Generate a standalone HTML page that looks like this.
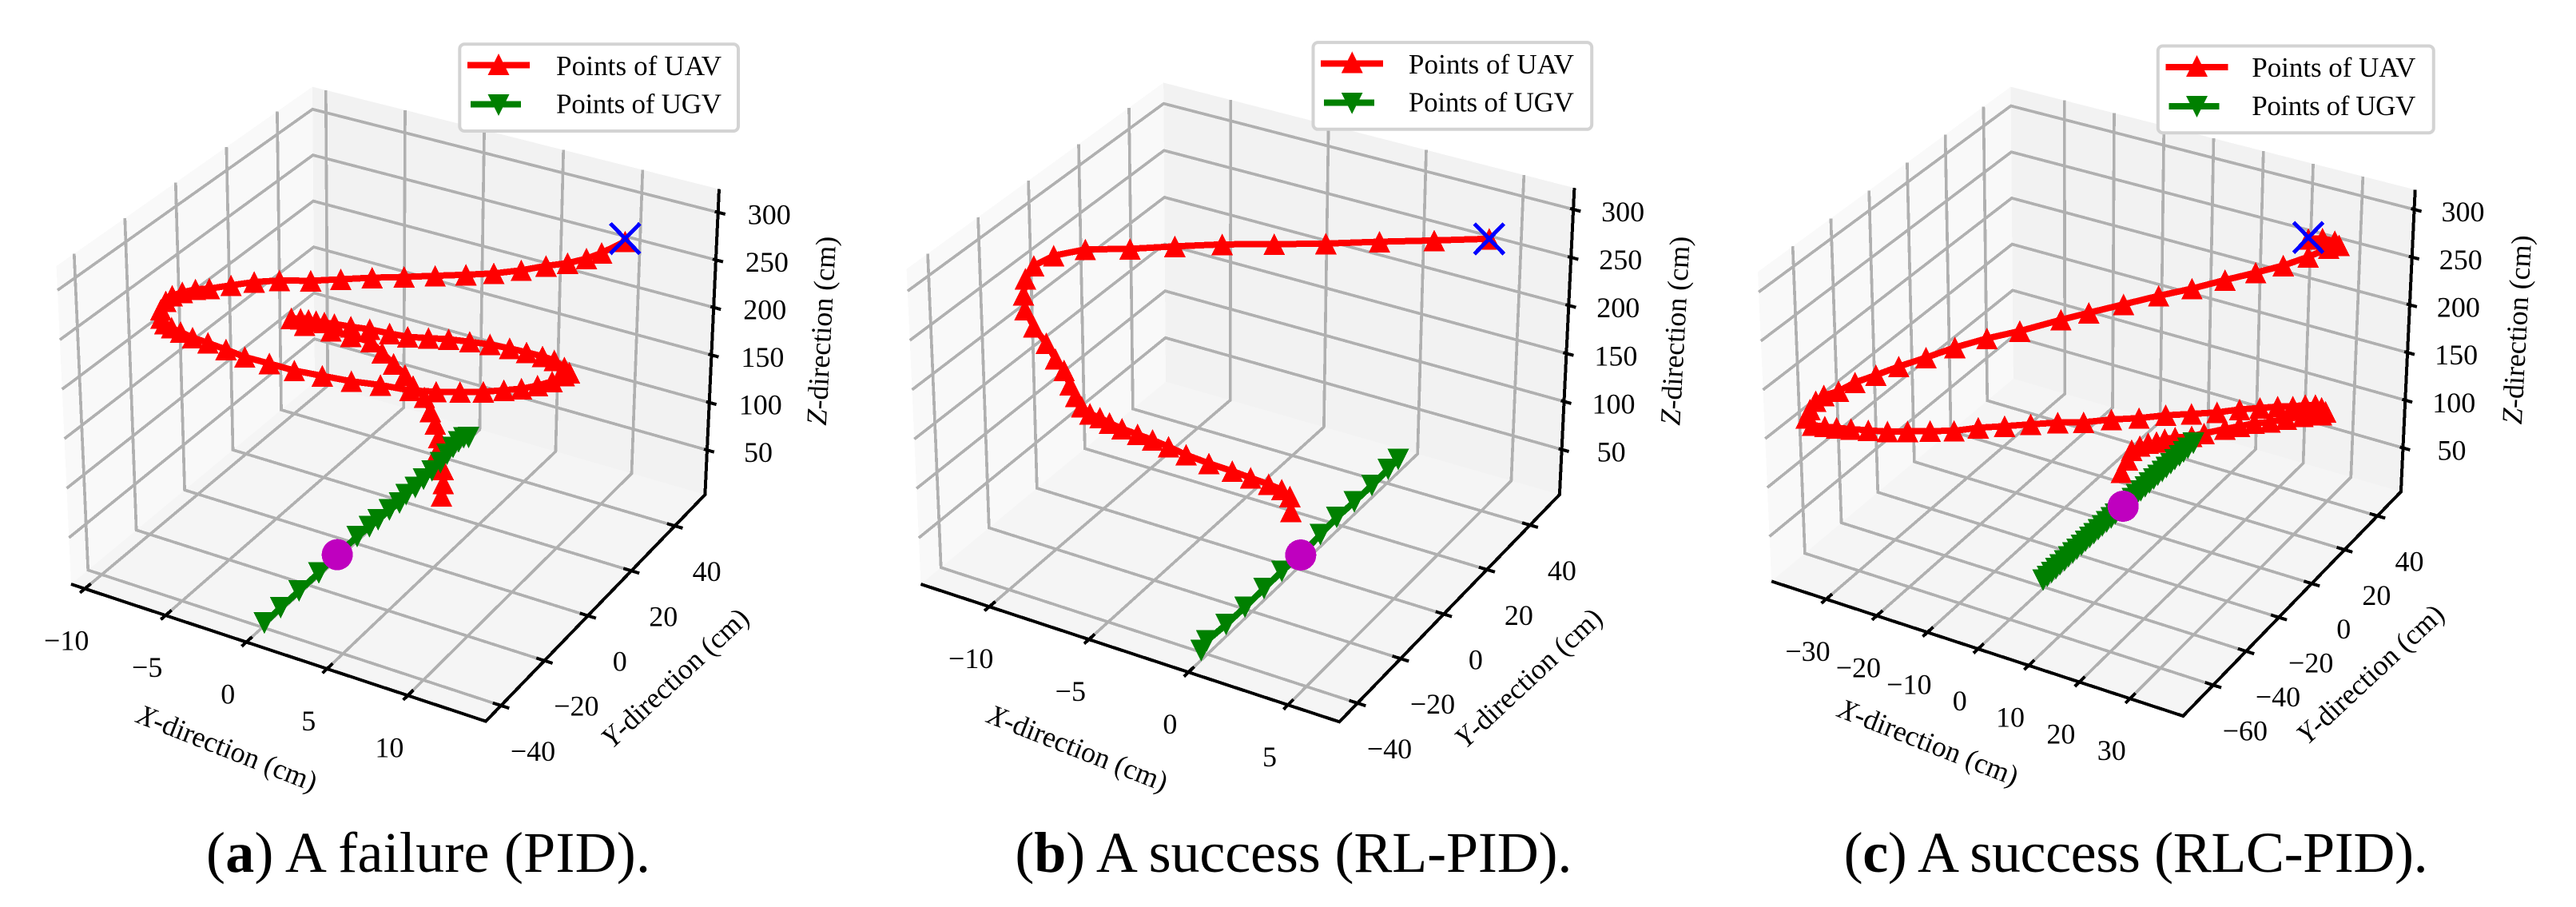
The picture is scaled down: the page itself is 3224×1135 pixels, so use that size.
<!DOCTYPE html>
<html lang="en">
<head>
<meta charset="utf-8">
<title>UAV and UGV trajectories</title>
<style>
html,body{margin:0;padding:0;background:#fff;}
svg{display:block;}
polyline,polygon,line,path,circle{shape-rendering:crispEdges;}
text{font-family:"Liberation Serif",serif;fill:#000;}
.tick{font-size:36px;text-anchor:middle;dominant-baseline:central;}
.axt{font-size:36px;text-anchor:middle;dominant-baseline:central;}
.leg{font-size:35px;}
.cap{font-size:72px;}
</style>
</head>
<body>
<svg xmlns="http://www.w3.org/2000/svg" width="3224" height="1135" viewBox="0 0 3224 1135">
<rect width="3224" height="1135" fill="#fff"/>

<g>
  <g id="plot-a"></g>
  <text class="axt" transform="translate(284.5,936) rotate(21.5)"><tspan font-style="italic">X</tspan>-direction (cm)</text>
  <text class="axt" transform="translate(844.7,848) rotate(-43)"><tspan font-style="italic">Y</tspan>-direction (cm)</text>
  <text class="axt" transform="translate(1028,414) rotate(-87)"><tspan font-style="italic">Z</tspan>-direction (cm)</text>
  <g transform="translate(575.3,55.3)">
    <rect x="0" y="0" width="348.7" height="108.7" rx="6" fill="#fff" stroke="#d3d3d3" stroke-width="4"/>
    <line x1="9.7" y1="26.4" x2="87.7" y2="26.4" stroke="#ff0000" stroke-width="8"/>
    <polygon points="48.7,11.5 35.2,38.5 62.2,38.5" fill="#ff0000"/>
    <text class="leg" x="120.7" y="38.7" textLength="207" lengthAdjust="spacing">Points of UAV</text>
    <line x1="13.7" y1="75.4" x2="76.7" y2="75.4" stroke="#008000" stroke-width="8"/>
    <polygon points="48.7,89.7 35.2,62.7 62.2,62.7" fill="#008000"/>
    <text class="leg" x="120.7" y="86.4" textLength="207" lengthAdjust="spacing">Points of UGV</text>
  </g>
  <text class="cap" x="258" y="1091" textLength="556" lengthAdjust="spacing">(<tspan font-weight="bold">a</tspan>) A failure (PID).</text>
</g>

<g>
  <g id="plot-b"></g>
  <text class="axt" transform="translate(1349,936) rotate(21.5)"><tspan font-style="italic">X</tspan>-direction (cm)</text>
  <text class="axt" transform="translate(1912.8,848) rotate(-43)"><tspan font-style="italic">Y</tspan>-direction (cm)</text>
  <text class="axt" transform="translate(2096.5,414) rotate(-87)"><tspan font-style="italic">Z</tspan>-direction (cm)</text>
  <g transform="translate(1643.5,53.1)">
    <rect x="0" y="0" width="348.7" height="108.7" rx="6" fill="#fff" stroke="#d3d3d3" stroke-width="4"/>
    <line x1="9.7" y1="26.4" x2="87.7" y2="26.4" stroke="#ff0000" stroke-width="8"/>
    <polygon points="48.7,11.5 35.2,38.5 62.2,38.5" fill="#ff0000"/>
    <text class="leg" x="119.4" y="38.7" textLength="207" lengthAdjust="spacing">Points of UAV</text>
    <line x1="13.7" y1="75.4" x2="76.7" y2="75.4" stroke="#008000" stroke-width="8"/>
    <polygon points="48.7,89.7 35.2,62.7 62.2,62.7" fill="#008000"/>
    <text class="leg" x="119.4" y="86.4" textLength="207" lengthAdjust="spacing">Points of UGV</text>
  </g>
  <text class="cap" x="1270.4" y="1091" textLength="697" lengthAdjust="spacing">(<tspan font-weight="bold">b</tspan>) A success (RL-PID).</text>
</g>

<g>
  <g id="plot-c"></g>
  <text class="axt" transform="translate(2413.7,928.7) rotate(21.5)"><tspan font-style="italic">X</tspan>-direction (cm)</text>
  <text class="axt" transform="translate(2966.5,843.3) rotate(-43)"><tspan font-style="italic">Y</tspan>-direction (cm)</text>
  <text class="axt" transform="translate(3150,412.6) rotate(-87)"><tspan font-style="italic">Z</tspan>-direction (cm)</text>
  <g transform="translate(2700.8,57.5)">
    <rect x="0" y="0" width="345" height="108.7" rx="6" fill="#fff" stroke="#d3d3d3" stroke-width="4"/>
    <line x1="9.7" y1="26.4" x2="87.7" y2="26.4" stroke="#ff0000" stroke-width="8"/>
    <polygon points="48.7,11.5 35.2,38.5 62.2,38.5" fill="#ff0000"/>
    <text class="leg" x="117.5" y="38.7" textLength="205" lengthAdjust="spacing">Points of UAV</text>
    <line x1="13.7" y1="75.4" x2="76.7" y2="75.4" stroke="#008000" stroke-width="8"/>
    <polygon points="48.7,89.7 35.2,62.7 62.2,62.7" fill="#008000"/>
    <text class="leg" x="117.5" y="86.4" textLength="205" lengthAdjust="spacing">Points of UGV</text>
  </g>
  <text class="cap" x="2307.6" y="1091" textLength="731" lengthAdjust="spacing">(<tspan font-weight="bold">c</tspan>) A success (RLC-PID).</text>
</g>
</svg>

<script>
/* ---- panel (a) data ---- */
const aXTicks=[-10,-5,0,5,10];
const aYTicks=[-40,-20,0,20,40];
const aZTicks=[50,100,150,200,250,300];
const aUavX=[12.6,11.17,10.24,9.07,7.73,6.19,4.48,2.74,0.8,-1.15,-3.17,-5.16,-7.06,-1.25,-2.79,-4.21,-5.54,-6.39,-7.2,-7.83,-8.24,-8.56,-8.56,-8.34,-7.93,-7.38,-6.65,-5.71,-4.61,-3.46,-1.96,-0.43,1.28,3.06,4.84,-0.77,0.91,2.44,3.92,5.23,6.34,7.35,8.27,9.03,9.35,9.03,8.38,7.63,6.62,5.55,4.3,3.02,1.69,0.4,-0.91,-2.06,-3.33,-4.53,-5.58,-6.22,-6.74,-7.23,-7.73,-8.32,-7.48,-5.8,-4.53,-3.26,-2.54,-1.81,-1.08,-0.56,0.17,0.55,0.87,1.09,0.98,1.41,1.41,1.3];
const aUavY=[28.7,28.7,28.7,28.7,28.7,28.7,28.7,28.7,28.7,28.7,28.7,28.7,28.7,-21.8,-21.8,-21.8,-21.8,-21.8,-21.8,-21.8,-21.8,-21.8,-21.8,-21.8,-21.8,-21.8,-21.8,-21.8,-21.8,-21.8,-21.8,-21.8,-21.8,-21.8,-21.8,28.7,28.7,28.7,28.7,28.7,28.7,28.7,28.7,28.7,28.7,28.7,28.7,28.7,28.7,28.7,28.7,28.7,28.7,28.7,28.7,28.7,28.7,28.7,28.7,28.7,28.7,28.7,28.7,28.7,28.7,28.7,28.7,28.7,28.7,28.7,28.7,28.7,28.7,28.7,28.7,28.7,28.7,28.7,28.7,28.7];
const aUavZ=[313,294.9,284.8,275,266.1,254.7,243.6,234.4,224.5,214.3,204.2,193.3,182.8,310,301.1,290.8,281.1,276.2,269.2,262.9,255,244.8,236.2,231.6,229.4,227.6,225.7,224.8,223.4,221.5,222.2,222.5,225.5,228.7,233.5,96.6,103.1,110.1,117.2,125,131.8,139.6,148.3,157.8,162.3,166.5,170.7,171.5,171,170.2,168.6,165.4,161.9,157.1,152.3,150.5,148.9,146.1,144.1,142.6,141.6,140.7,139.3,137.1,133.6,135.7,135.9,136.1,127.8,119.5,111.3,102,93.7,80.7,69.1,55.7,39.2,23.7,9.2,-4.4];
const aUgvX=[-0.13,-0.16,-0.16,-0.17,-0.24,-0.24,-0.17,-0.12,-0.1,0.02,-0.11,-0.04,-0.08,-0.11,-0.15,-0.27,-0.35,-0.38,-0.35,-0.12];
const aUgvY=[-38.3,-31.05,-23.1,-14.5,-6.06,2.54,7.38,10.79,15.5,19.1,22.8,26.3,30.15,34,37.9,41.6,44.7,47.3,49.3,49.9];
const aUgvZ=[3.1,3.1,3.1,3.1,3.1,3.1,3.1,3.1,3.1,3.1,3.1,3.1,3.1,3.1,3.1,3.1,3.1,3.1,3.1,3.1];
const aTarget=[-0.24,-6.06,3.1];
const aStart=[12.6,28.7,316];

/* ---- panel (b) data ---- */
const bXTicks=[-10,-5,0,5];
const bYTicks=[-40,-20,0,20,40];
const bZTicks=[50,100,150,200,250,300];
const bUavX=[6.22,3.47,0.72,-1.99,-4.6,-7.25,-9.67,-11.97,-7.82,-9.39,-10.39,-10.82,-10.94,-10.89,-10.48,-9.87,-9.44,-9.02,-8.74,-8.47,-8.18,-7.77,-7.27,-6.79,-6.17,-5.39,-4.64,-3.85,-2.97,-1.83,-0.66,0.26,1.16,1.81,2.22,2.28];
const bUavY=[28.2,28.2,28.2,28.2,28.2,28.2,28.2,28.2,-22.9,-22.9,-22.9,-22.9,-22.9,-22.9,-22.9,-22.9,-22.9,-22.9,-22.9,-22.9,-22.9,-22.9,-22.9,-22.9,-22.9,-22.9,-22.9,-22.9,-22.9,-22.9,-22.9,-22.9,-22.9,-22.9,-22.9,-22.9];
const bUavZ=[316.8,300,283.5,266.6,251.3,236.2,220.4,204.7,328.6,312.8,296.3,280.5,263.2,248.6,233.3,220.4,207,197.9,184.9,174.7,165.9,161.4,160.5,158.1,156.1,155.1,154.1,152.1,149.4,147.7,147.1,145.9,145,143.6,139.2,124.7];
const bUgvX=[-0.37,-0.55,-0.47,-0.45,-0.47,-0.49,-0.42,-0.49,-0.56,-0.52,-0.51,-0.54,-0.55];
const bUgvY=[-39.45,-35.4,-27.5,-19.3,-10.65,-2.6,5.25,14.56,22.47,29.9,37.6,45.1,49.7];
const bUgvZ=[3.1,3.1,3.1,3.1,3.1,3.1,3.1,3.1,3.1,3.1,3.1,3.1,3.1];
const bTarget=[-0.42,5.25,3.1];
const bStart=[6.22,28.2,316.8];

/* ---- panel (c) data ---- */
const cXTicks=[-30,-20,-10,0,10,20,30];
const cYTicks=[-60,-40,-20,0,20,40];
const cZTicks=[50,100,150,200,250,300];
const cUavX=[32.95,35.73,38.15,39,36.99,33.03,28.19,22.79,16.74,10.2,3.61,-3.38,-10.37,-15.97,-24.3,-1.99,-8.2,-13.81,-19.16,-23.66,-27.77,-31.03,-33.96,-35.56,-36.79,-37.59,-36.41,-33.98,-31.65,-28.84,-25.44,-21.7,-17.78,-13.33,-8.67,-3.94,1.17,6.25,11.49,-11.4,-5.71,-0.12,5.3,10.52,15.65,20.19,24.31,27.84,30.87,33.35,35.39,36.63,37.46,36.65,34.58,32.94,29.65,26.39,23.2,20.26,17.32,13.12,10.61,7.25,5.15,3.47,1.79,0.11,-1.57,-2.41,-3.66];
const cUavY=[14.5,14.5,14.5,14.5,14.5,14.5,14.5,14.5,14.5,14.5,14.5,14.5,14.5,14.5,14.5,-65,-65,-65,-65,-65,-65,-65,-65,-65,-65,-65,-65,-65,-65,-65,-65,-65,-65,-65,-65,-65,-65,-65,-65,14.5,14.5,14.5,14.5,14.5,14.5,14.5,14.5,14.5,14.5,14.5,14.5,14.5,14.5,14.5,14.5,14.5,14.5,14.5,14.5,14.5,14.5,14.5,14.5,14.5,14.5,14.5,14.5,14.5,14.5,14.5,14.5];
const cUavZ=[323.7,327.8,328.4,325.4,319.5,305.1,289.3,274.3,258.1,239.7,222.7,203.6,184.5,168.8,144.5,293.7,275,255.9,238.4,222.5,208.6,194.5,185.4,177,166.3,156.3,150.9,153.5,156,159.2,163.3,168,174.5,182,189.5,200.1,209.8,219.6,229.5,67.8,79.3,89.2,100.3,109.5,118.7,128.5,136.1,142.7,147.3,152.4,155.4,154.4,151.3,147.2,144.1,140.2,132.4,124.6,118.6,111.2,103.9,93.1,86.4,79.9,75.2,69.7,65.75,60.25,53.4,42,27];
const cUgvX=[-1.32,-1.3,-1.31,-1.28,-1.3,-1.27,-1.29,-1.26,-1.28,-1.25,-1.27,-1.24,-1.26,-1.23,-1.25,-1.22,-1.2,-1.22,-1.18,-1.2,-1.16,-1.18,-1.14,-1.16,-1.12,-1.14,-1.1,-1.12,-1.07,-1.09,-1.05,-1.07,-1.02,-1.03,-0.98,-0.95];
const cUgvY=[-37,-34.6,-32.1,-29.7,-27.3,-24.8,-22.4,-20,-17.6,-15.1,-12.7,-10.3,-7.9,-5.4,-3,-0.6,1.9,4.3,6.7,9.1,11.6,14,16.4,18.8,21.3,23.7,26.1,28.5,31,33.4,35.8,38.2,40.7,43.1,45.5,48.6];
const cUgvZ=[4.1,4.1,4.1,4.1,4.1,4.1,4.1,4.1,4.1,4.1,4.1,4.1,4.1,4.1,4.1,4.1,4.1,4.1,4.1,4.1,4.1,4.1,4.1,4.1,4.1,4.1,4.1,4.1,4.1,4.1,4.1,4.1,4.1,4.1,4.1,4.1];
const cTarget=[-1.32,9.09,4.1];
const cStart=[32.95,14.5,325];

/* ---- axis frames: projected cube corners and axis limits ---- */
const frameA={id:'plot-a',xlim:[-10.85,14.83],ylim:[-47,53.9],zlim:[3.1,324.4],zOff:64,
 A:[89,731],B:[608,902.6],C:[882.4,619],D:[394,478],A2:[70.6,333],B2:[610,491],C2:[900,236.7],D2:[391,108.6]};
const frameB={id:'plot-b',xlim:[-13.44,7.58],ylim:[-48.4,53.7],zlim:[3.1,322.3],zOff:62,
 A:[1152.5,731],B:[1676.3,903.3],C:[1951.9,618.9],D:[1459,477.7],A2:[1134.6,336.6],B2:[1679.7,499.4],C2:[1970.4,235.2],D2:[1456.2,103.5]};
const frameC={id:'plot-c',xlim:[-40.8,40.5],ylim:[-78.3,54.3],zlim:[4.1,320.7],zOff:61,
 A:[2217.1,727.4],B:[2732.3,896],C:[3004.9,615.3],D:[2519.9,474],A2:[2200,340.2],B2:[2736.4,496.3],C2:[3022.7,237.4],D2:[2516.5,108.6]};

const NS='http://www.w3.org/2000/svg';
function mk(tag,attrs,parent){
  const e=document.createElementNS(NS,tag);
  for(const k in attrs){e.setAttribute(k,attrs[k]);}
  parent.appendChild(e);
  return e;
}
function lerp(a,b,t){return [a[0]+(b[0]-a[0])*t,a[1]+(b[1]-a[1])*t];}
function scaleU(f,x){return (x-f.xlim[0])/(f.xlim[1]-f.xlim[0]);}
function scaleV(f,y){return (y-f.ylim[0])/(f.ylim[1]-f.ylim[0]);}
function scaleW(f,z){return (z-f.zlim[0])/(f.zlim[1]-f.zlim[0]);}
function cube(f,u,v,w){
  const lo=lerp(lerp(f.A,f.B,u),lerp(f.D,f.C,u),v);
  const hi=lerp(lerp(f.A2,f.B2,u),lerp(f.D2,f.C2,u),v);
  return lerp(lo,hi,w);
}
function project(f,x,y,z){return cube(f,scaleU(f,x),scaleV(f,y),scaleW(f,z));}
function pts(list){return list.map(function(p){return p[0].toFixed(1)+','+p[1].toFixed(1);}).join(' ');}
function fmt(t){return String(t).replace('-','\u2212');}

function gridLine(g,list){
  const el=mk('polyline',{points:pts(list),fill:'none',stroke:'#b0b0b0','stroke-width':3.7,'stroke-linejoin':'miter'},g);
  
  
}
function tickMark(g,a,b){
  const el=mk('line',{x1:a[0],y1:a[1],x2:b[0],y2:b[1],stroke:'#000','stroke-width':4},g);
  
  
}
function tickLabel(g,p,dx,dy,t){
  const el=mk('text',{x:(p[0]+dx).toFixed(1),y:(p[1]+dy).toFixed(1),'class':'tick'},g);
  el.textContent=fmt(t);
  
  
}

function drawFrame(f,xTicks,yTicks,zTicks){
  const g=document.getElementById(f.id);
  const left=mk('polygon',{points:pts([f.A,f.D,f.D2,f.A2]),fill:'#f9f9f9'},g);
  
  
  const back=mk('polygon',{points:pts([f.D,f.C,f.C2,f.D2]),fill:'#f2f2f2'},g);
  
  
  const floor=mk('polygon',{points:pts([f.A,f.B,f.C,f.D]),fill:'#f5f5f5'},g);
  
  

  xTicks.forEach(function(t){
    const u=scaleU(f,t);
    gridLine(g,[cube(f,u,0,0),cube(f,u,1,0),cube(f,u,1,1)]);
  });
  yTicks.forEach(function(t){
    const v=scaleV(f,t);
    gridLine(g,[cube(f,1,v,0),cube(f,0,v,0),cube(f,0,v,1)]);
  });
  zTicks.forEach(function(t){
    const w=scaleW(f,t);
    gridLine(g,[cube(f,0,0,w),cube(f,0,1,w),cube(f,1,1,w)]);
  });

  const axis=mk('polyline',{points:pts([f.A,f.B,f.C,f.C2]),fill:'none',stroke:'#000','stroke-width':4,'stroke-linejoin':'miter'},g);
  
  

  xTicks.forEach(function(t){
    const u=scaleU(f,t);
    tickMark(g,cube(f,u,-0.02,0),cube(f,u,0.025,0));
    tickLabel(g,cube(f,u,0,0),-23,65,t);
  });
  yTicks.forEach(function(t){
    const v=scaleV(f,t);
    tickMark(g,cube(f,0.98,v,0),cube(f,1.02,v,0));
    tickLabel(g,cube(f,1,v,0),40,57,t);
  });
  zTicks.forEach(function(t){
    const w=scaleW(f,t);
    tickMark(g,cube(f,0.992,1,w),cube(f,1.018,1,w));
    tickLabel(g,cube(f,1,1,w),f.zOff,3,t);
  });
}

function drawUav(f,xs,ys,zs){
  const g=document.getElementById(f.id);
  const list=xs.map(function(x,i){return project(f,x,ys[i],zs[i]);});
  const line=mk('polyline',{points:pts(list),fill:'none',stroke:'#ff0000','stroke-width':8,'stroke-linejoin':'round'},g);
  
  
  list.forEach(function(p){
    const tri=mk('polygon',{points:pts([[p[0],p[1]-13.5],[p[0]-13.5,p[1]+13.5],[p[0]+13.5,p[1]+13.5]]),fill:'#ff0000'},g);
    
    
  });
}
function drawUgv(f,xs,ys,zs){
  const g=document.getElementById(f.id);
  const list=xs.map(function(x,i){return project(f,x,ys[i],zs[i]);});
  const line=mk('polyline',{points:pts(list),fill:'none',stroke:'#008000','stroke-width':8,'stroke-linejoin':'round'},g);
  
  
  list.forEach(function(p){
    const tri=mk('polygon',{points:pts([[p[0],p[1]+13.5],[p[0]-13.5,p[1]-13.5],[p[0]+13.5,p[1]-13.5]]),fill:'#008000'},g);
    
    
  });
}
function drawTarget(f,t){
  const g=document.getElementById(f.id);
  const p=project(f,t[0],t[1],t[2]);
  const c=mk('circle',{cx:p[0].toFixed(1),cy:p[1].toFixed(1),r:19.5,fill:'#bf00bf'},g);
  
  
}
function drawStart(f,s){
  const g=document.getElementById(f.id);
  const p=project(f,s[0],s[1],s[2]);
  const d='M'+(p[0]-18.5)+' '+(p[1]-19)+'L'+(p[0]+18.5)+' '+(p[1]+19)+'M'+(p[0]-18.5)+' '+(p[1]+19)+'L'+(p[0]+18.5)+' '+(p[1]-19);
  const x=mk('path',{d:d,fill:'none',stroke:'#0000ff','stroke-width':5},g);
  
  
}

drawFrame(frameA,aXTicks,aYTicks,aZTicks);
drawUav(frameA,aUavX,aUavY,aUavZ);
drawUgv(frameA,aUgvX,aUgvY,aUgvZ);
drawTarget(frameA,aTarget);
drawStart(frameA,aStart);

drawFrame(frameB,bXTicks,bYTicks,bZTicks);
drawUav(frameB,bUavX,bUavY,bUavZ);
drawUgv(frameB,bUgvX,bUgvY,bUgvZ);
drawTarget(frameB,bTarget);
drawStart(frameB,bStart);

drawFrame(frameC,cXTicks,cYTicks,cZTicks);
drawUav(frameC,cUavX,cUavY,cUavZ);
drawUgv(frameC,cUgvX,cUgvY,cUgvZ);
drawTarget(frameC,cTarget);
drawStart(frameC,cStart);
</script>
</body>
</html>
